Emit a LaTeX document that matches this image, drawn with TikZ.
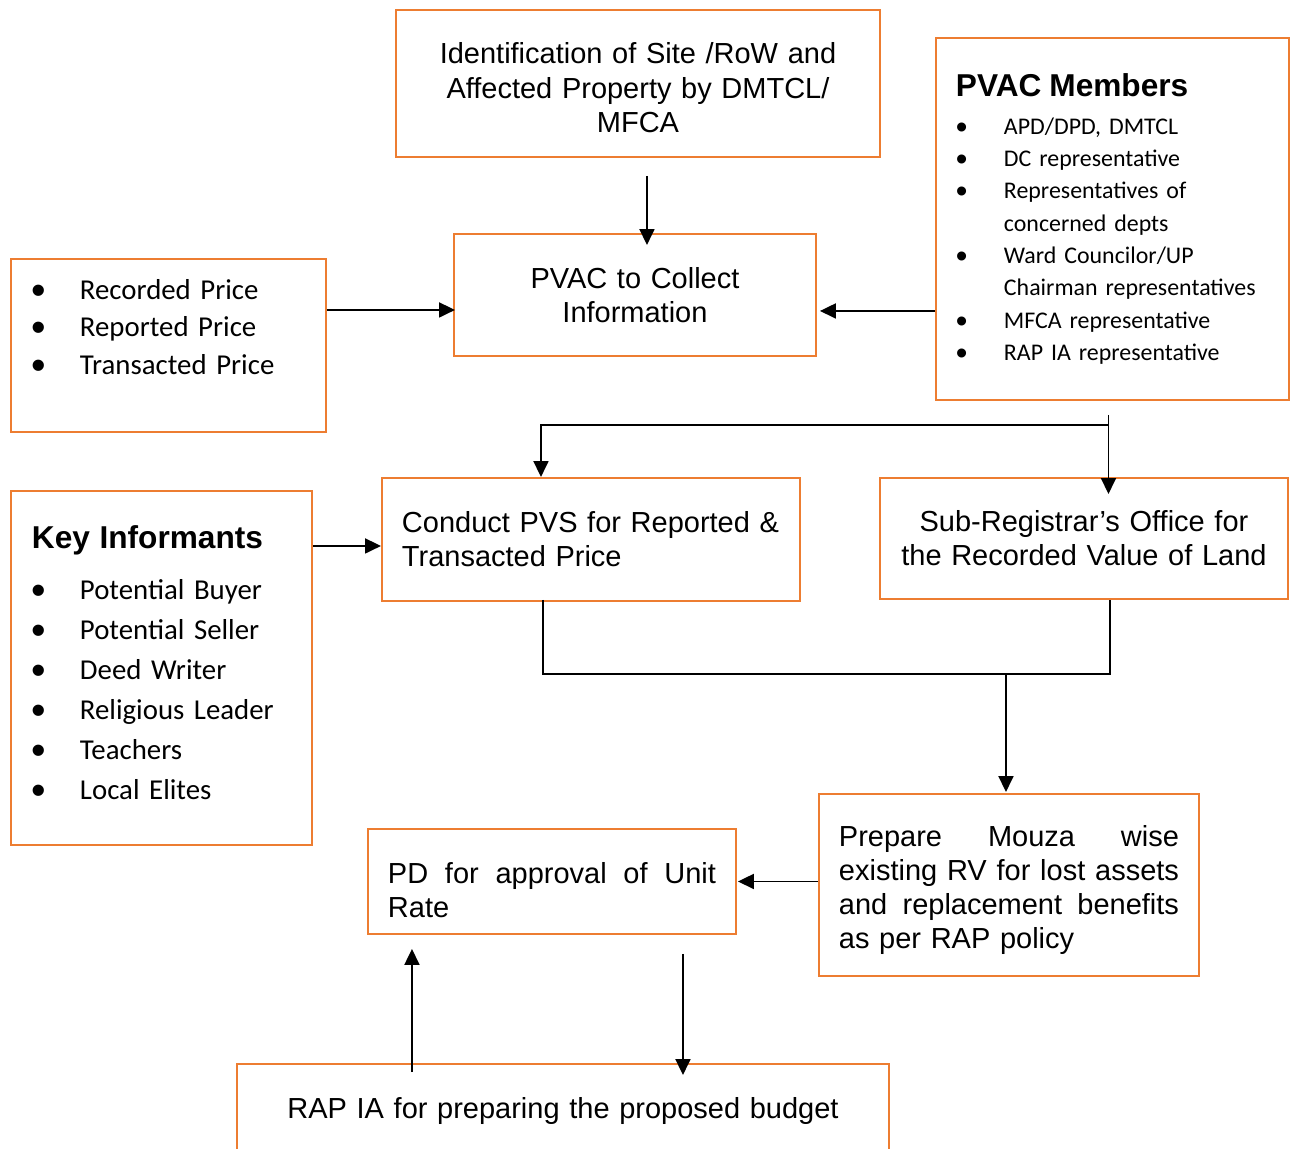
\documentclass[tikz,border=0pt]{standalone}
\usepackage{fontspec}
\setmainfont{Liberation Sans}
\newfontfamily\calibri{Carlito}
\usetikzlibrary{arrows.meta,positioning}

\newdimen\pxu \pxu=0.02cm
\definecolor{boxorange}{RGB}{237,125,49}
\newcommand{\bigdot}{\makebox[48\pxu][l]{\raisebox{-5\pxu}{\rmfamily\fontsize{23.6}{23.6}\selectfont\textbullet}}}
\newcommand{\smalldot}{\makebox[48\pxu][l]{\raisebox{-4\pxu}{\rmfamily\fontsize{18.9}{18.9}\selectfont\textbullet}}}
\newcommand{\indentmark}{\hspace*{48\pxu}}
\newcommand{\boxfont}{\fontsize{16.5}{19.3}\selectfont}

\tikzset{
  box/.style={draw=boxorange, line width=1.1pt, inner sep=0pt, anchor=north west, font=\boxfont},
  line/.style={line width=1.1pt},
  arr/.style={line, -{Triangle[length=0.32cm,width=0.3cm]}},
}

\begin{document}
\begin{tikzpicture}[x=0.02cm, y=-0.02cm]
  \clip (0,0) rectangle (1293,1148);

  % Define nodes
  \node[box, minimum width=484\pxu, minimum height=147\pxu, text width=460\pxu, align=center,
        font={\fontsize{16.5}{19.6}\selectfont}] (ident) at (395,9)
    {\rule{0pt}{30\pxu}Identification of Site /RoW and\\Affected Property by DMTCL/\\MFCA};
  \node[box, minimum width=362\pxu, minimum height=122\pxu, text width=330\pxu, align=center] (pvac) at (453,233)
    {PVAC to Collect\\Information};
  \node[box, minimum width=353\pxu, minimum height=362\pxu, text width=313\pxu, align=left,
        font={\calibri\fontsize{13.6}{18.4}\selectfont}] (members) at (935,37)
    {{\rmfamily\bfseries\fontsize{18}{22}\selectfont PVAC Members}\\[5.5\pxu]
     \smalldot APD/DPD, DMTCL\\
     \smalldot DC representative\\
     \smalldot Representatives of\\
     \indentmark concerned depts\\
     \smalldot Ward Councilor/UP\\
     \indentmark Chairman representatives\\
     \smalldot MFCA representative\\
     \smalldot RAP IA representative};
  \node[box, minimum width=315\pxu, minimum height=173\pxu, text width=273\pxu, align=left,
        font={\calibri\fontsize{16.4}{21.3}\selectfont}] (prices) at (10,258)
    {\bigdot Recorded Price\\
     \bigdot Reported Price\\
     \bigdot Transacted Price\\
     \mbox{}};
  \node[box, minimum width=418\pxu, minimum height=123\pxu, text width=378\pxu, align=left] (conduct) at (381,477)
    {Conduct PVS for Reported \&\\Transacted Price};
  \node[box, minimum width=408\pxu, minimum height=121\pxu, text width=380\pxu, align=center] (subreg) at (879,477)
    {Sub-Registrar’s Office for\\the Recorded Value of Land};
  \node[box, minimum width=301\pxu, minimum height=354\pxu, text width=259\pxu, align=left,
        font={\calibri\fontsize{16.4}{22.8}\selectfont}] (keyinf) at (10,490)
    {{\rmfamily\bfseries\fontsize{18}{22}\selectfont Key Informants}\\[11.3\pxu]
     \bigdot Potential Buyer\\
     \bigdot Potential Seller\\
     \bigdot Deed Writer\\
     \bigdot Religious Leader\\
     \bigdot Teachers\\
     \bigdot Local Elites\\[-29.5\pxu]
     \mbox{}};
  \node[box, minimum width=380\pxu, minimum height=182\pxu, text width=340\pxu, align=left] (prepare) at (818,793)
    {\rule{0pt}{31\pxu}\makebox[340\pxu][l]{Prepare\hfill Mouza\hfill wise}\\
     \makebox[340\pxu][l]{existing\hfill RV\hfill for\hfill lost\hfill assets}\\
     \makebox[340\pxu][l]{and\hfill replacement\hfill benefits}\\
     as per RAP policy};
  \node[box, minimum width=368\pxu, minimum height=105\pxu, text width=328\pxu, align=left] (pd) at (367,828)
    {\rule{0pt}{38\pxu}\makebox[328\pxu][l]{PD\hfill for\hfill approval\hfill of\hfill Unit}\\
     Rate};
  \node[box, minimum width=652\pxu, minimum height=94\pxu, text width=620\pxu, align=center] (rapia) at (236,1063)
    {RAP IA for preparing the proposed budget};

  % Connect the nodes
  \draw[arr] ([shift={(9,18)}]ident.south) -- ([shift={(12,12)}]pvac.north);

  \coordinate (pvacleft) at ([shift={(2,15)}]pvac.west);
  \draw[arr] (prices.east |- pvacleft) -- (pvacleft);
  \coordinate (pvacright) at ([shift={(3,16)}]pvac.east);
  \draw[arr] (members.west |- pvacright) -- (pvacright);

  \coordinate (split) at ([shift={(-4,14)}]members.south);
  \coordinate (subregin) at ([shift={(0,17)}]subreg.north);
  \draw[arr] (split) -- (split |- subregin);
  \draw[arr] ([shift={(0,10)}]split) -| ([shift={(-50,0)}]conduct.north);

  \coordinate (conductleft) at ([shift={(0,6.5)}]conduct.west);
  \draw[arr] (keyinf.east |- conductleft) -- (conductleft);

  \coordinate (cb) at ([shift={(-48,-2)}]conduct.south);
  \coordinate (sb) at ([shift={(26,0)}]subreg.south);
  \draw[line] (cb) -- ++(0,74) coordinate (mid) -| (sb);
  \coordinate (pn) at ([shift={(-3,-1)}]prepare.north);
  \draw[arr] (pn |- mid) -- (pn);

  \draw[arr] (prepare.west |- pd.east) -- ([shift={(1,0)}]pd.east);

  \coordinate (up) at ([shift={(-140,14)}]pd.south);
  \coordinate (upstart) at ([shift={(0,9)}]rapia.north);
  \draw[arr] (up |- upstart) -- (up);
  \coordinate (dn) at ([shift={(131,19)}]pd.south);
  \coordinate (dnend) at ([shift={(0,12)}]rapia.north);
  \draw[arr] (dn) -- (dn |- dnend);

\end{tikzpicture}
\end{document}
